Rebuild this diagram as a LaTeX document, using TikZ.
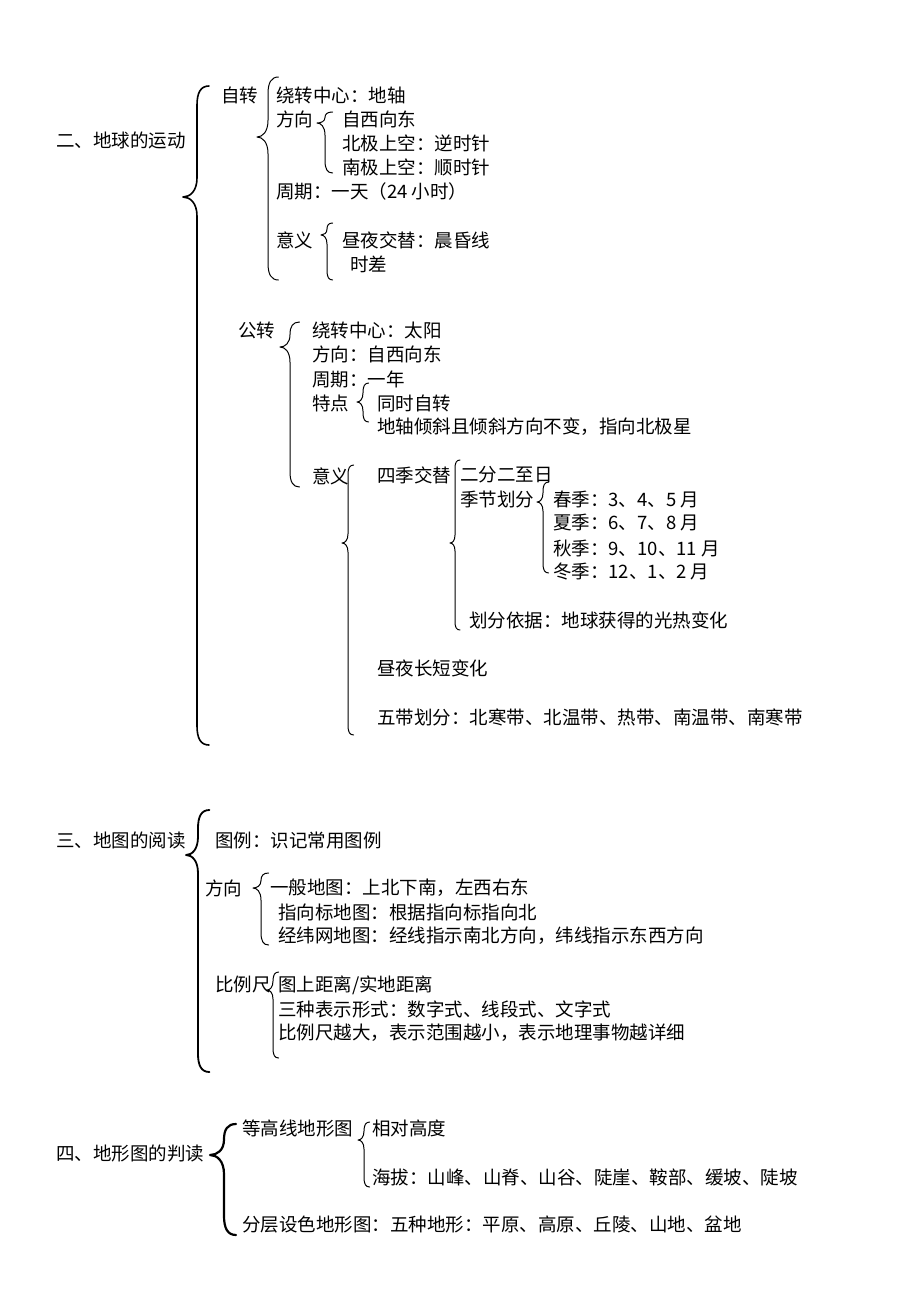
\documentclass[tikz,border=0pt]{standalone}
\usepackage{fontspec}
\newfontfamily\cjk{Noto Sans CJK SC}
\newcommand\mybrace[6]{%
  \pgfmathsetmacro\brH{max(5,min(12,(#2-#3)*0.95))}%
  \pgfmathsetmacro\brA{min(1.6*\brH,(#5-#4)/2)}%
  \pgfmathsetmacro\brB{min(1.6*\brH,(#6-#5)/2)}%
  \draw[bracestyle,line width=#1] ({#2+\brH},#4) .. controls ({#2+0.3*\brH},#4) and (#2,{#4+0.35*\brA}) .. (#2,{#4+\brA})
    -- (#2,{#5-\brA}) .. controls (#2,{#5-0.3*\brA}) and ({#3+0.5*(#2-#3)},#5) .. (#3,#5)
    .. controls ({#3+0.5*(#2-#3)},#5) and (#2,{#5+0.3*\brB}) .. (#2,{#5+\brB})
    -- (#2,{#6-\brB}) .. controls (#2,{#6-0.35*\brB}) and ({#2+0.3*\brH},#6) .. ({#2+\brH},#6);}
\begin{document}
\begin{tikzpicture}[x=1pt,y=-1pt,
  t/.style={anchor=west,inner sep=0pt,font=\cjk\fontsize{18.5}{20}\selectfont},
  bracestyle/.style={draw=black,line cap=round,line join=round}]
\useasboundingbox[fill=white] (0,0) rectangle (920,1302);
% ---------- 二
\node[t] (n2) at (56,140) {二、地球的运动};
\mybrace{1.6pt}{197}{183}{86}{197}{745}
\node[t] (zz) at (221,95) {自转};
\mybrace{1pt}{268}{257}{77}{137}{280}
\node[t] (zz1) at (276,95) {绕转中心：地轴};
\node[t] (zz2) at (276,119) {方向};
\mybrace{1pt}{325}{317}{112}{123}{173}
\node[t] (zz21) at (342,119) {自西向东};
\node[t] (zz22) at (342,143) {北极上空：逆时针};
\node[t] (zz23) at (342,167) {南极上空：顺时针};
\node[t] (zz3) at (276,191) {周期：一天（24 小时）};
\node[t] (zz4) at (276,240) {意义};
\mybrace{1pt}{327}{321}{223}{235}{280}
\node[t] (zz41) at (342,240) {昼夜交替：晨昏线};
\node[t] (zz42) at (350,264) {时差};
\node[t] (gz) at (238,330) {公转};
\mybrace{1pt}{290}{280}{322}{347}{487}
\node[t] (gz1) at (312,330) {绕转中心：太阳};
\node[t] (gz2) at (312,354) {方向：自西向东};
\node[t] (gz3) at (312,379) {周期：一年};
\node[t] (gz4) at (312,403) {特点};
\mybrace{1pt}{363}{357}{383}{402}{422}
\node[t] (gz41) at (377,403) {同时自转};
\node[t] (gz42) at (377,427) {地轴倾斜且倾斜方向不变，指向北极星};
\node[t] (gz5) at (312,476) {意义};
\mybrace{1pt}{348}{342}{465}{543}{735}
\node[t] (gz51) at (377,475) {四季交替};
\mybrace{1pt}{455}{450}{460}{543}{630}
\node[t] (gz511) at (460,475) {二分二至日};
\node[t] (gz512) at (460,499) {季节划分};
\mybrace{1pt}{543}{537}{482}{502}{573}
\node[t] (s1) at (553,499) {春季：3、4、5 月};
\node[t] (s2) at (553,523) {夏季：6、7、8 月};
\node[t] (s3) at (553,548) {秋季：9、10、11 月};
\node[t] (s4) at (553,572) {冬季：12、1、2 月};
\node[t] (gz513) at (469,620) {划分依据：地球获得的光热变化};
\node[t] (gz52) at (377,668) {昼夜长短变化};
\node[t] (gz53) at (377,717) {五带划分：北寒带、北温带、热带、南温带、南寒带};
% ---------- 三
\node[t] (n3) at (56,840) {三、地图的阅读};
\mybrace{1.8pt}{198}{186}{810}{855}{1072}
\node[t] (tl) at (215,840) {图例：识记常用图例};
\node[t] (fx) at (205,888) {方向};
\mybrace{1pt}{261}{253}{873}{888}{945}
\node[t] (fx1) at (270,888) {一般地图：上北下南，左西右东};
\node[t] (fx2) at (278,912) {指向标地图：根据指向标指向北};
\node[t] (fx3) at (278,936) {经纬网地图：经线指示南北方向，纬线指示东西方向};
\node[t] (blc) at (215,985) {比例尺};
\mybrace{1pt}{273}{267}{972}{990}{1058}
\node[t] (b1) at (278,985) {图上距离/实地距离};
\node[t] (b2) at (278,1009) {三种表示形式：数字式、线段式、文字式};
\node[t] (b3) at (278,1033) {比例尺越大，表示范围越小，表示地理事物越详细};
% ---------- 四
\node[t] (n4) at (56,1153) {四、地形图的判读};
\mybrace{2.2pt}{224}{210}{1124}{1155}{1235}
\node[t] (dgx) at (242,1128) {等高线地形图};
\mybrace{1pt}{364}{358}{1122}{1140}{1187}
\node[t] (xd) at (372,1128) {相对高度};
\node[t] (hb) at (372,1177) {海拔：山峰、山脊、山谷、陡崖、鞍部、缓坡、陡坡};
\node[t] (fc) at (242,1225) {分层设色地形图：五种地形：平原、高原、丘陵、山地、盆地};
\end{tikzpicture}
\end{document}
